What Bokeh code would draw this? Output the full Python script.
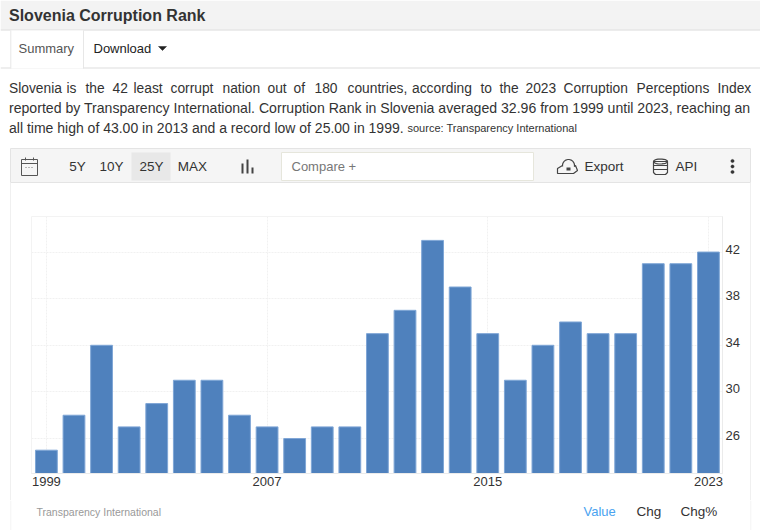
import numpy as np
from bokeh.plotting import figure
from bokeh.layouts import column
from bokeh.embed import file_html
from bokeh.resources import INLINE
from bokeh.core.properties import value
from bokeh.models import FixedTicker, LinearAxis, Range1d

years = list(range(1999, 2024))
values = [25, 28, 34, 27, 29, 31, 31, 28, 27, 26, 27, 27, 35, 37, 43, 39, 35, 31, 34, 36, 35, 35, 41, 41, 42]
y_ticks = [26, 30, 34, 38, 42]
x_ticks = [1999, 2007, 2015, 2023]
FONT = "Liberation Sans"
INK = "#333333"
W = 760
HEAD_H, CHART_H, FOOT_H = 183, 317, 30


def pane(h):
    f = figure(width=W, height=h, output_backend="svg", toolbar_location=None,
               x_range=(0, W), y_range=(h, 0), x_axis_location=None, y_axis_location=None,
               min_border=0, min_border_left=0, min_border_right=0, min_border_top=0, min_border_bottom=0,
               frame_align=False)
    f.outline_line_color = None
    f.grid.visible = False
    return f


def box(f, x0, y0, x1, y1, fill=None, line=None):
    f.quad(left=[x0], right=[x1], top=[y0], bottom=[y1], fill_color=fill, fill_alpha=1 if fill else 0,
           line_color=line, line_alpha=1 if line else 0, line_width=1)


def poly(f, xs, ys, fill=None, line="#444444", width=1.2):
    f.patch(x=list(xs), y=list(ys), fill_color=fill, fill_alpha=1 if fill else 0, line_color=line, line_width=width)


def label(f, x, y, s, size=13, color=INK, style="normal", align="left"):
    f.text(x=[x], y=[y], text=[s], text_font=value(FONT), text_font_size=value(f"{size}px"),
           text_color=color, text_font_style=style, text_align=align, text_baseline="middle")


# ---- header pane
h = pane(HEAD_H)
box(h, 0, 0, 760, 29, fill="#f3f3f3")
box(h, 0, 29, 760, 30, fill="#d9d9d9")
box(h, 0, 67, 760, 68, fill="#dddddd")
box(h, 10, 30, 83, 68, fill="white")
box(h, 10, 30, 10.7, 68, fill="#dddddd")
box(h, 82.5, 30, 83.2, 68, fill="#dddddd")
label(h, 8.5, 14.5, "Slovenia Corruption Rank", size=16, style="bold")
label(h, 18, 48, "Summary", size=13, color="#555555")
label(h, 93, 48, "Download", size=13, color="#222222")
poly(h, [158, 166, 162], [46, 46, 50], fill="#222222", line="#222222", width=0.5)

line1 = [("Slovenia", 8.5), ("is", 66), ("the", 85), ("42", 112), ("least", 133), ("corrupt", 170),
         ("nation", 222), ("out", 267), ("of", 293), ("180", 314), ("countries,", 347),
         ("according", 411.5), ("to", 480), ("the", 499), ("2023", 525), ("Corruption", 563),
         ("Perceptions", 636), ("Index", 717)]
for w, x in line1:
    label(h, x, 87.5, w, size=13.8)
label(h, 8.5, 107, "reported by Transparency International. Corruption Rank in Slovenia averaged 32.96 from 1999 until 2023, reaching an", size=14.1)
label(h, 8.5, 127, "all time high of 43.00 in 2013 and a record low of 25.00 in 1999.", size=14)
label(h, 407, 127.5, "source: Transparency International", size=11)

box(h, 10, 148, 750, 182, fill="#f5f5f5", line="#e4e4e4")
box(h, 131, 152, 170, 180, fill="#e8e8e8")
label(h, 77, 165.5, "5Y", size=13.5, align="center")
label(h, 111, 165.5, "10Y", size=13.5, align="center")
label(h, 151, 165.5, "25Y", size=13.5, align="center")
label(h, 192, 165.5, "MAX", size=13.5, align="center")
box(h, 281, 152, 533, 180, fill="white", line="#e6e6dc")
label(h, 291, 165.5, "Compare +", size=13, color="#777777")
label(h, 584, 165.5, "Export", size=13.5)
label(h, 675, 165.5, "API", size=13.5)

box(h, 21, 159, 37, 175, line="#555555")
h.line([21, 37], [163, 163], line_color="#555555", line_width=1)
h.line([25, 25], [157, 160], line_color="#555555", line_width=1)
h.line([33, 33], [157, 160], line_color="#555555", line_width=1)
h.line([25, 34], [167, 167], line_color="#777777", line_width=1, line_dash="1 2")
box(h, 241, 163, 243, 173, fill="#444444")
box(h, 246, 159, 248, 173, fill="#444444")
box(h, 251, 167, 253, 173, fill="#444444")
for cy in (160.5, 166, 171.5):
    t = np.linspace(0, 2 * np.pi, 14)
    poly(h, 732 + 1.6 * np.cos(t), cy + 1.6 * np.sin(t), fill="#333333", line="#333333", width=0.5)
t = np.linspace(np.pi * 0.95, np.pi * 2.05, 20)
poly(h, [557, 562] + list(568 + 6 * np.cos(t)) + [575, 577, 573, 557],
     [168, 165] + list(165 + 6 * np.sin(t)) + [165, 170, 173, 173])
box(h, 566, 167, 570, 170, fill="#444444")
t = np.linspace(0, 2 * np.pi, 24)
poly(h, 660 + 7 * np.cos(t), 161 + 2.5 * np.sin(t))
poly(h, [653, 653, 655, 665, 667, 667, 653], [161, 172, 174, 174, 172, 161, 161])
h.line([653, 667], [165, 165], line_color="#444444", line_width=1.2)
h.line([653, 667], [169, 169], line_color="#444444", line_width=1.2)

# ---- chart pane
Y0, Y1 = 23.0, 45.05
LIFT = 3 / 11.66  # tick labels sit about 3px above their gridlines
p = figure(width=W, height=CHART_H, output_backend="svg", toolbar_location=None,
           x_range=(1998.46, 2023.51), y_range=(Y0, Y1), y_axis_location=None,
           min_border_left=31, min_border_right=W - 722, min_border_top=216 - HEAD_H,
           min_border_bottom=HEAD_H + CHART_H - 473, frame_align=False)
p.extra_y_ranges = {"labels": Range1d(Y0 - LIFT, Y1 - LIFT)}
yax = LinearAxis(y_range_name="labels")
p.add_layout(yax, "right")
p.outline_line_color = "#f3f3f3"
p.border_fill_alpha = 0
p.styles = {"background": "linear-gradient(#f0f0f0,#f0f0f0) 10px 0/1px 100% no-repeat, "
                          "linear-gradient(#f0f0f0,#f0f0f0) 750px 0/1px 100% no-repeat"}
p.vbar(x=years, top=values, bottom=Y0, width=0.79, fill_color="#4f81bd", line_color="#7fa6d6", line_width=1)
for ax in (p.xaxis[0], yax):
    ax.axis_line_color = "#ebebeb"
    ax.major_tick_line_color = None
    ax.minor_tick_line_color = None
    ax.major_label_text_font = FONT
    ax.major_label_text_font_size = "13px"
    ax.major_label_text_color = INK
p.xaxis.ticker = FixedTicker(ticks=x_ticks)
yax.ticker = FixedTicker(ticks=y_ticks)
p.xaxis.major_label_standoff = -3
yax.major_label_standoff = -3
p.xgrid.ticker = FixedTicker(ticks=x_ticks)
p.ygrid.ticker = FixedTicker(ticks=y_ticks)
p.grid.grid_line_color = "#f1f1f1"
p.grid.grid_line_dash = "2 1"

# ---- footer pane
g = pane(FOOT_H)
FY = 511 - HEAD_H - CHART_H
label(g, 36, FY, "Transparency International", size=10.5, color="#999999")
label(g, 583, FY, "Value", size=13, color="#4aa3f0")
label(g, 636, FY, "Chg", size=13.5)
label(g, 680, FY, "Chg%", size=13.5)
box(g, 10, 0, 10.7, FOOT_H, fill="#f0f0f0")
box(g, 750, 0, 750.7, FOOT_H, fill="#f0f0f0")

open("out.html", "w").write(file_html(column(h, p, g, spacing=0), INLINE))
